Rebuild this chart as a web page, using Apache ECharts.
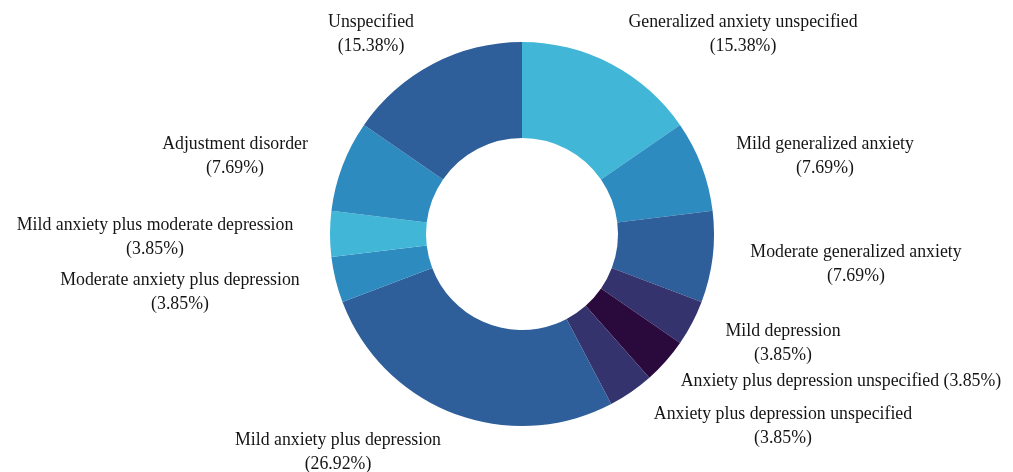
<!DOCTYPE html>
<html>
<head>
<meta charset="utf-8">
<script src="https://cdn.jsdelivr.net/npm/echarts@6/dist/echarts.min.js"></script>
<style>
  html, body { margin: 0; padding: 0; background: #ffffff; }
  #chart { width: 1013px; height: 472px; }
</style>
</head>
<body>
<div id="chart"></div>
<script>
// Diagnosis categories, clockwise from 12 o'clock
const categories = [
  'Generalized anxiety unspecified',
  'Mild generalized anxiety',
  'Moderate generalized anxiety',
  'Mild depression',
  'Anxiety plus depression unspecified',
  'Anxiety plus depression unspecified',
  'Mild anxiety plus depression',
  'Moderate anxiety plus depression',
  'Mild anxiety plus moderate depression',
  'Adjustment disorder',
  'Unspecified'
];

// Share of cases, in percent
const shares = [15.38, 7.69, 7.69, 3.85, 3.85, 3.85, 26.92, 3.85, 3.85, 7.69, 15.38];

// Slice fill colours
const sliceColors = [
  '#41b6d6', '#2e8bc0', '#2f5f9a', '#35336e', '#2a0a3c', '#35336e',
  '#2f5f9a', '#2e8bc0', '#41b6d6', '#2e8bc0', '#2f5f9a'
];

// Whether the label is written on a single line
const singleLine = [false, false, false, false, true, false, false, false, false, false, false];

// Label centre points (px) around the ring
const labelAnchors = [
  [743, 34], [825, 156], [856, 264], [783, 343], [841, 381], [783, 426],
  [338, 452], [180, 292], [155, 237], [235, 156], [371, 34]
];

const chart = echarts.init(document.getElementById('chart'), null, { renderer: 'canvas' });

chart.setOption({
  backgroundColor: '#ffffff',
  animation: false,
  series: [{
    type: 'pie',
    center: [522, 234],
    radius: [96, 192],
    startAngle: 90,
    clockwise: true,
    avoidLabelOverlap: false,
    data: categories.map((name, i) => ({
      name: name,
      value: shares[i],
      itemStyle: { color: sliceColors[i] }
    })),
    label: {
      show: true,
      position: 'outside',
      fontFamily: '"Liberation Serif", "DejaVu Serif", serif',
      fontSize: 17.8,
      lineHeight: 24,
      color: '#151515',
      align: 'center',
      formatter: (p) => singleLine[p.dataIndex]
        ? p.name + ' (' + p.value.toFixed(2) + '%)'
        : p.name + '\n(' + p.value.toFixed(2) + '%)'
    },
    labelLine: { show: false },
    labelLayout: (params) => ({
      x: labelAnchors[params.dataIndex][0],
      y: labelAnchors[params.dataIndex][1],
      align: 'center',
      verticalAlign: 'middle'
    }),
    emphasis: { disabled: true }
  }]
});
</script>
</body>
</html>
